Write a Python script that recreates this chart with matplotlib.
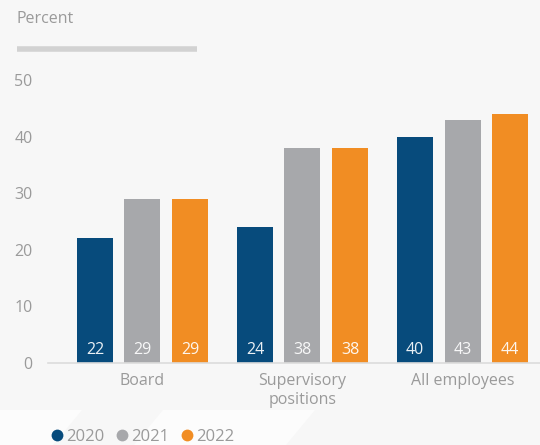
import matplotlib
matplotlib.use('Agg')
from matplotlib import pyplot as plt
from matplotlib.patches import Polygon
import numpy as np

categories = ['Board', 'Supervisory\npositions', 'All employees']
years = ['2020', '2021', '2022']
values_2020 = [22, 24, 40]
values_2021 = [29, 38, 43]
values_2022 = [29, 38, 44]
colors = ['#074b7c', '#a7a8ab', '#f18d23']

bg = '#f7f7f7'
text_gray = '#9a9a9a'

plt.rcParams['font.family'] = ['Open Sans', 'DejaVu Sans']

W, H = 540, 445
fig = plt.figure(figsize=(W / 100, H / 100), dpi=100, facecolor=bg)


def px(pts):
    # pixel coords (from top-left) to figure fraction
    return [[a / W, 1 - b / H] for a, b in pts]


# faint decorative shapes at the bottom
for shape in ([(0, 410), (82, 410), (53, 445), (0, 445)],
              [(163, 410), (315, 410), (286, 445), (134, 445)]):
    fig.patches.append(Polygon(px(shape), closed=True, transform=fig.transFigure,
                               facecolor='#fcfcfc', edgecolor='none', zorder=0))

ax = fig.add_axes([48 / W, 1 - 363 / H, 492 / W, (363 - 80) / H])
ax.set_facecolor('none')

x = np.arange(len(categories))
width = 0.225
step = 0.297
series = [values_2020, values_2021, values_2022]
for i, vals in enumerate(series):
    pos = x + (i - 1) * step
    bars = ax.bar(pos, vals, width, color=colors[i], zorder=2)
    for b, v in zip(bars, vals):
        ax.text(b.get_x() + b.get_width() / 2, 2.3, str(v), ha='center', va='center',
                color='white', fontsize=11.5, alpha=0.92, zorder=3)

ax.set_xlim(-0.59, 2.484)
ax.set_ylim(0, 50)
ax.set_yticks([0, 10, 20, 30, 40, 50])
ax.tick_params(axis='y', length=0, pad=11, labelsize=11.5, labelcolor=text_gray)
ax.set_xticks(x)
ax.set_xticklabels(categories, fontsize=11.5, color=text_gray, linespacing=1.3)
ax.tick_params(axis='x', length=0, pad=7)
for s in ['top', 'right', 'left']:
    ax.spines[s].set_visible(False)
ax.spines['bottom'].set_color('#dcdcdc')
ax.spines['bottom'].set_linewidth(1.2)
ax.spines['bottom'].set_zorder(4)

fig.text(17 / W, 1 - 19 / H, 'Percent', fontsize=11.5, color=text_gray,
         ha='left', va='center')
fig.add_artist(plt.Line2D([17 / W, 197 / W], [1 - 49 / H, 1 - 49 / H],
                          color='#d2d2d2', linewidth=4, solid_capstyle='butt'))

handles = [plt.Line2D([], [], marker='o', linestyle='none', markersize=8.5,
                      markerfacecolor=c, markeredgecolor='none') for c in colors]
fig.legend(handles, years, loc='center left', bbox_to_anchor=(49 / W, 1 - 437 / H),
           ncol=3, frameon=False, fontsize=12, labelcolor=text_gray,
           handletextpad=0.05, columnspacing=0.55, handlelength=1.0,
           borderpad=0, borderaxespad=0)

fig.savefig('out.png', dpi=100, facecolor=bg)
